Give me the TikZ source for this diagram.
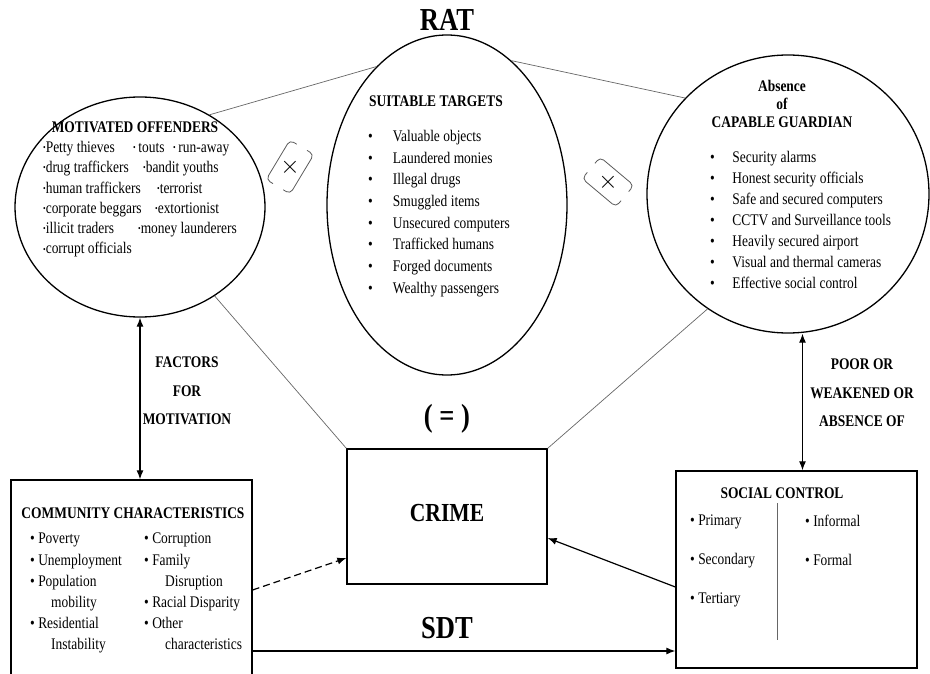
\documentclass[tikz,border=0pt]{standalone}
\usepackage{fontspec}
\setmainfont[FakeStretch=0.83]{Liberation Serif}
\usetikzlibrary{shapes,arrows.meta,positioning,calc}
\newcommand{\offdot}{\raisebox{0.25ex}{\scalebox{0.55}{\textbullet}}}

\begin{document}
\begin{tikzpicture}[
    x=1pt, y=1pt,
    ringshape/.style={ellipse, draw, line width=1.3pt, inner sep=0pt},
    boxshape/.style={rectangle, draw, line width=1.3pt, inner sep=0pt},
    conn/.style={draw=black!60, line width=0.7pt},
    headtext/.style={font=\fontsize{16.2}{18}\selectfont\bfseries, inner sep=0pt, align=center},
    listtext/.style={font=\fontsize{16.2}{21}\selectfont, inner sep=0pt, align=left, anchor=north west},
    bigtext/.style={font=\fontsize{32}{34}\selectfont\bfseries, inner sep=0pt},
    onearrow/.style={line width=1.2pt, -{Latex[length=9pt,width=7pt]}},
    twoarrow/.style={line width=1.2pt, {Latex[length=9pt,width=7pt]}-{Latex[length=9pt,width=7pt]}},
    xbracket/.style={draw=black!65, line width=0.8pt, rounded corners=4.5pt}
]
    \useasboundingbox (0,0) rectangle (930,-674);
    \clip (0,0) rectangle (930,-674);

    % the three RAT elements
    \node [ringshape, minimum width=250pt, minimum height=220pt] (offenders) at (140,-207) {};
    \node [ringshape, minimum width=240pt, minimum height=340pt] (targets) at (447,-205) {};
    \node [ringshape, minimum width=282pt, minimum height=278pt] (guardian) at (788,-194) {};
    \node [bigtext] (rat) at (447,-20) {RAT};

    % boxes
    \node [boxshape, minimum width=200pt, minimum height=135pt] (crime) at (447,-516.5) {};
    \node [font=\fontsize{26}{28}\selectfont\bfseries] (crimetext) at (447,-513) {CRIME};
    \node [bigtext, above=15pt of crime] (equals) {( = )};
    \node [bigtext, below=32pt of crime] (sdt) {SDT};
    \node [boxshape, minimum width=241pt, minimum height=220pt] (community) at (131.5,-590) {};
    \node [boxshape, minimum width=241pt, minimum height=197pt] (social) at (796.5,-569.5) {};

    % offenders text
    \node [headtext] (offhead) at (135,-127) {MOTIVATED OFFENDERS};
    \node [listtext, font=\fontsize{16.2}{20.3}\selectfont] (offlist) at (43,-141) {%
        \makebox[90pt][l]{\offdot Petty thieves}\makebox[40pt][l]{\offdot\,touts}\offdot\,run-away\\
        \makebox[100pt][l]{\offdot drug traffickers}\offdot bandit youths\\
        \makebox[114pt][l]{\offdot human traffickers}\offdot terrorist\\
        \makebox[112pt][l]{\offdot corporate beggars}\offdot extortionist\\
        \makebox[95pt][l]{\offdot illicit traders}\offdot money launderers\\
        \offdot corrupt officials};

    % targets text
    \node [headtext] (tarhead) at (436,-101) {SUITABLE TARGETS};
    \node [listtext, font=\fontsize{16.2}{21.7}\selectfont] (tarlist) at (368,-130) {%
        \textbullet\hspace{20pt}Valuable objects\\
        \textbullet\hspace{20pt}Laundered monies\\
        \textbullet\hspace{20pt}Illegal drugs\\
        \textbullet\hspace{20pt}Smuggled items\\
        \textbullet\hspace{20pt}Unsecured computers\\
        \textbullet\hspace{20pt}Trafficked humans\\
        \textbullet\hspace{20pt}Forged documents\\
        \textbullet\hspace{20pt}Wealthy passengers};

    % guardian text
    \node [headtext, anchor=north] (guahead) at (782,-80) {Absence\\of\\CAPABLE GUARDIAN};
    \node [listtext] (gualist) at (710,-151) {%
        \textbullet\hspace{17.5pt}Security alarms\\
        \textbullet\hspace{17.5pt}Honest security officials\\
        \textbullet\hspace{17.5pt}Safe and secured computers\\
        \textbullet\hspace{17.5pt}CCTV and Surveillance tools\\
        \textbullet\hspace{17.5pt}Heavily secured airport\\
        \textbullet\hspace{17.5pt}Visual and thermal cameras\\
        \textbullet\hspace{17.5pt}Effective social control};

    % community text
    \node [headtext] (comhead) at (133,-513) {COMMUNITY CHARACTERISTICS};
    \node [listtext, font=\fontsize{16.2}{21.2}\selectfont] (comleft) at (30,-533) {%
        \textbullet\ Poverty\\
        \textbullet\ Unemployment\\
        \textbullet\ Population\\
        \hspace{21pt}mobility\\
        \textbullet\ Residential\\
        \hspace{21pt}Instability};
    \node [listtext, font=\fontsize{16.2}{21.2}\selectfont] (comright) at (144,-533) {%
        \textbullet\ Corruption\\
        \textbullet\ Family\\
        \hspace{21pt}Disruption\\
        \textbullet\ Racial Disparity\\
        \textbullet\ Other\\
        \hspace{21pt}characteristics};

    % social control text
    \node [headtext] (sochead) at (782,-493) {SOCIAL CONTROL};
    \node [listtext, font=\fontsize{16.2}{39}\selectfont] (socleft) at (690,-515) {%
        \textbullet\ Primary\\
        \textbullet\ Secondary\\
        \textbullet\ Tertiary};
    \node [listtext, font=\fontsize{16.2}{39}\selectfont] (socright) at (805,-515) {%
        \textbullet\ Informal\\
        \textbullet\ Formal};
    \coordinate (divtop) at (777,-503);
    \coordinate (divbot) at (777,-640);
    \draw [conn] (divtop) -- (divbot);

    % arrow labels
    \node [headtext, font=\fontsize{16.2}{28.5}\selectfont\bfseries] (factors) at (187,-391) {FACTORS\\FOR\\MOTIVATION};
    \node [headtext, font=\fontsize{16.2}{28.5}\selectfont\bfseries] (poor) at (862,-393) {POOR OR\\WEAKENED OR\\ABSENCE OF};

    % multiplication marks
    \begin{scope}[shift={(290,-167)}, rotate=-31]
        \draw [xbracket] (-6,23) -- (-14,23) -- (-14,-23) -- (-6,-23);
        \draw [xbracket] (6,23) -- (14,23) -- (14,-23) -- (6,-23);
    \end{scope}
    \node (xleft) at (290,-167) {\fontsize{24}{24}\selectfont$\times$};
    \begin{scope}[shift={(608,-182)}, rotate=50]
        \draw [xbracket] (-6,22) -- (-14,22) -- (-14,-22) -- (-6,-22);
        \draw [xbracket] (6,22) -- (14,22) -- (14,-22) -- (6,-22);
    \end{scope}
    \node (xright) at (608,-182) {\fontsize{24}{24}\selectfont$\times$};

    % connectors
    \draw [conn] (offenders.53) -- (targets.117);
    \draw [conn] (targets.66) -- (guardian.137);
    \draw [conn] (offenders.-50) -- (crime.north west);
    \draw [conn] (guardian.-125) -- (crime.north east);

    \draw [twoarrow] (offenders.south) -- (offenders.south |- community.north);
    \draw [twoarrow] ([xshift=6pt]social.north) -- ([xshift=6pt]social.north |- guardian.south);
    \draw [onearrow, dash pattern=on 7pt off 4pt] (community.east) -- ([yshift=-41.5pt]crime.west);
    \draw [onearrow] ([yshift=-17.5pt]social.west) -- ([yshift=-21.5pt]crime.east);
    \draw [onearrow] ([yshift=-61pt]community.east) -- ([yshift=-61pt]community.east -| social.west);
\end{tikzpicture}
\end{document}
